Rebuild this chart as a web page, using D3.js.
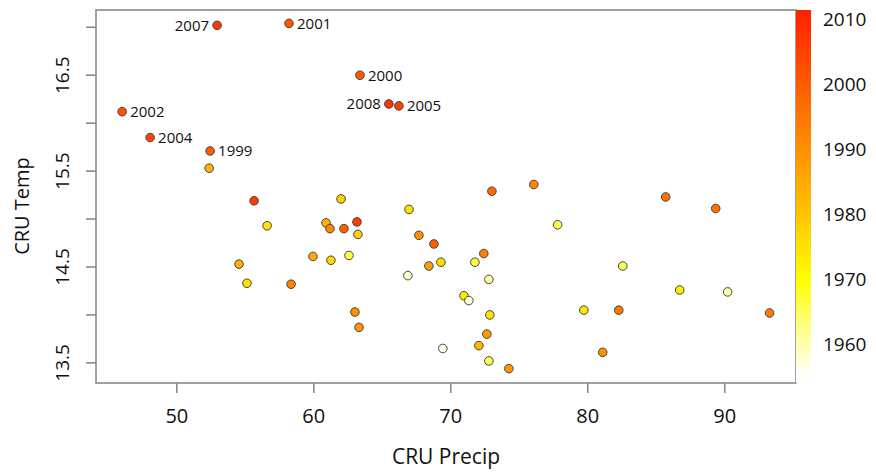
<!DOCTYPE html>
<html>
<head>
<meta charset="utf-8">
<script src="https://cdn.jsdelivr.net/npm/d3@7"></script>
<style>
  body { margin: 0; background: #fff; }
  svg text { font-family: "Open Sans", sans-serif; fill: #111; }
</style>
</head>
<body>
<div id="chart"></div>
<script>
// CRU precip vs temp, coloured by year
var precip = [52.94, 58.19, 63.37, 65.48, 66.21, 46.01, 48.05, 52.43, 52.36, 55.64,
              56.59, 61.99, 66.95, 73.00, 76.06, 60.89, 61.18, 62.20, 63.15, 63.22,
              67.67, 68.77, 59.94, 61.25, 62.57, 54.54, 55.12, 58.34, 66.87, 68.40,
              69.28, 71.76, 72.41, 72.78, 70.96, 71.32, 63.00, 63.30, 72.85, 72.63,
              72.05, 69.42, 72.78, 74.24, 77.80, 85.69, 89.34, 82.55, 79.71, 82.26,
              81.09, 86.71, 90.21, 93.27];
var temp   = [17.02, 17.04, 16.50, 16.20, 16.18, 16.12, 15.85, 15.71, 15.53, 15.19,
              14.93, 15.21, 15.10, 15.29, 15.36, 14.96, 14.90, 14.90, 14.97, 14.84,
              14.83, 14.74, 14.61, 14.57, 14.62, 14.53, 14.33, 14.32, 14.41, 14.51,
              14.55, 14.55, 14.64, 14.37, 14.20, 14.15, 14.03, 13.87, 14.00, 13.80,
              13.68, 13.65, 13.52, 13.44, 14.94, 15.23, 15.11, 14.51, 14.05, 14.05,
              13.61, 14.26, 14.24, 14.02];
var year   = [2007, 2001, 2000, 2008, 2005, 2002, 2004, 1999, 1983, 2006,
              1975, 1978, 1975, 1997, 1992, 1983, 1992, 1999, 2006, 1978,
              1990, 1999, 1985, 1977, 1966, 1983, 1975, 1993, 1958, 1987,
              1976, 1967, 1993, 1961, 1973, 1958, 1990, 1989, 1975, 1988,
              1982, 1957, 1965, 1989, 1966, 1996, 1996, 1965, 1974, 1995,
              1990, 1973, 1960, 1994];
// which points carry a year label ("" = none), and which side it sits on
var pointLabel = ["2007", "2001", "2000", "2008", "2005", "2002", "2004", "1999"];
var labelLeft  = ["2007", "2008"];

var xTicks = [50, 60, 70, 80, 90];
var yTicks = [13.5, 14, 14.5, 15, 15.5, 16, 16.5, 17];
var yLabels = [13.5, 14.5, 15.5, 16.5];
var barTicks = [1960, 1970, 1980, 1990, 2000, 2010];

var yearStops = [1955, 1962, 1970, 1980, 1990, 2000, 2011];
var colorStops = ["#ffffff", "#ffff90", "#ffff00", "#ffc400", "#ff9000", "#ff5a00", "#ff2200"];

var W = 876, H = 473;
var m = {left: 96, right: 80, top: 10, bottom: 90};

var svg = d3.select("#chart").append("svg").attr("width", W).attr("height", H);

var x = d3.scaleLinear().domain([44.1, 95.2]).range([m.left, W - m.right]);
var y = d3.scaleLinear().domain([13.29, 17.18]).range([H - m.bottom, m.top]);
var color = d3.scaleLinear().domain(yearStops).range(colorStops).clamp(true);

var axisCol = "#8a8a8a";

// box
svg.append("rect").attr("x", m.left).attr("y", m.top)
  .attr("width", W - m.right - m.left).attr("height", H - m.bottom - m.top)
  .attr("fill", "none").attr("stroke", axisCol).attr("stroke-width", 1.6);

// x axis
var gx = svg.append("g").attr("transform", "translate(0," + (H - m.bottom) + ")");
gx.selectAll("line").data(xTicks).enter().append("line")
  .attr("x1", d => x(d)).attr("x2", d => x(d)).attr("y1", 0).attr("y2", 10)
  .attr("stroke", axisCol).attr("stroke-width", 1.6);
gx.selectAll("text").data(xTicks).enter().append("text")
  .attr("x", d => x(d)).attr("y", 40).attr("text-anchor", "middle")
  .style("font-size", "20px").text(d => d);

// y axis
var gy = svg.append("g").attr("transform", "translate(" + m.left + ",0)");
gy.selectAll("line").data(yTicks).enter().append("line")
  .attr("x1", -10).attr("x2", 0).attr("y1", d => y(d)).attr("y2", d => y(d))
  .attr("stroke", axisCol).attr("stroke-width", 1.6);
gy.selectAll("text").data(yLabels).enter().append("text")
  .attr("transform", d => "translate(-27," + y(d) + ") rotate(-90)")
  .attr("text-anchor", "middle")
  .style("font-size", "19px").text(d => d3.format(".1f")(d));

// axis titles
svg.append("text").attr("x", (m.left + W - m.right) / 2).attr("y", 464)
  .attr("text-anchor", "middle").style("font-size", "21px").text("CRU Precip");
svg.append("text").attr("transform", "translate(29,206) rotate(-90)")
  .attr("text-anchor", "middle").style("font-size", "20px").text("CRU Temp");

// points
var pts = precip.map((p, i) => ({p: p, t: temp[i], yr: year[i], lab: pointLabel[i] || ""}));
svg.append("g").selectAll("circle").data(pts).enter().append("circle")
  .attr("cx", d => x(d.p)).attr("cy", d => y(d.t)).attr("r", 4.3)
  .attr("fill", d => color(d.yr)).attr("stroke", "#444").attr("stroke-width", 1);

// year labels
svg.append("g").selectAll("text").data(pts.filter(d => d.lab !== "")).enter()
  .append("text")
  .attr("x", d => x(d.p) + (labelLeft.indexOf(d.lab) >= 0 ? -8 : 8))
  .attr("y", d => y(d.t)).attr("dy", "0.36em")
  .attr("text-anchor", d => labelLeft.indexOf(d.lab) >= 0 ? "end" : "start")
  .style("font-size", "15px").text(d => d.lab);

// colour bar
var yb = d3.scaleLinear().domain([1954, 2011.4]).range([H - m.bottom, m.top]);
var grad = svg.append("defs").append("linearGradient").attr("id", "bar")
  .attr("x1", 0).attr("x2", 0).attr("y1", 1).attr("y2", 0);
d3.range(1954, 2012, 1).forEach(function(yr) {
  grad.append("stop").attr("offset", (yr - 1954) / (2011.4 - 1954))
    .attr("stop-color", color(yr));
});
svg.append("rect").attr("x", W - m.right).attr("y", m.top)
  .attr("width", 15).attr("height", H - m.bottom - m.top)
  .attr("fill", "url(#bar)");
svg.append("g").selectAll("text").data(barTicks).enter().append("text")
  .attr("x", W - m.right + 27).attr("y", d => yb(d)).attr("dy", "0.36em")
  .style("font-size", "19px").text(d => d);
</script>
</body>
</html>
